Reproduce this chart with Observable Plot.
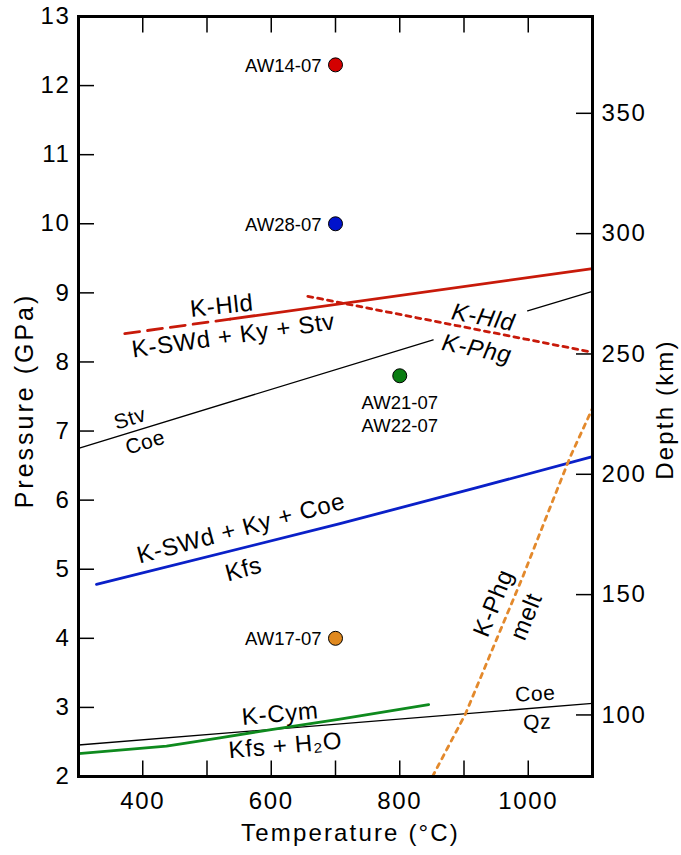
<!DOCTYPE html>
<html>
<head>
<meta charset="utf-8">
<script src="https://cdn.jsdelivr.net/npm/d3@7"></script>
<script src="https://cdn.jsdelivr.net/npm/@observablehq/plot@0.6"></script>
<style>
  body { margin: 0; background: #fff; }
  svg text { font-family: "Liberation Sans", Arial, Helvetica, sans-serif; }
  g[aria-label$="tick label"] text { letter-spacing: 0.07em; }
</style>
</head>
<body>
<div id="chart"></div>
<script>
// ---- axes ----
const tempTicks = [400, 500, 600, 700, 800, 900, 1000];
const tempLabels = [400, 600, 800, 1000];
const pressureTicks = [2, 3, 4, 5, 6, 7, 8, 9, 10, 11, 12, 13];
const depthTicksKm = [100, 150, 200, 250, 300, 350];
const depthAtZeroGPa = 17;     // km
const kmPerGPa = 28.71;        // km per GPa

// ---- reaction curves (T in °C, P in GPa) ----
const kHldDashed = [{T: 372, P: 8.41}, {T: 536, P: 8.62}];
const kHldSolid = [{T: 536, P: 8.62}, {T: 1100, P: 9.35}];
const kHldPhg = [{T: 657, P: 8.95}, {T: 1100, P: 8.14}];
const stvCoeLeft = [{T: 300, P: 6.75}, {T: 852, P: 8.32}];
const stvCoeRight = [{T: 999, P: 8.74}, {T: 1100, P: 9.02}];
const kswdKfs = [{T: 328, P: 4.78}, {T: 707, P: 5.66}, {T: 920, P: 6.18}, {T: 1100, P: 6.63}];
const kcymKfs = [{T: 300, P: 2.33}, {T: 437, P: 2.44}, {T: 520, P: 2.56}, {T: 600, P: 2.68}, {T: 707, P: 2.83}, {T: 845, P: 3.04}];
const coeQz = [{T: 300, P: 2.456}, {T: 1100, P: 3.058}];
const kphgMelt = [{T: 851, P: 2.0}, {T: 902, P: 2.9}, {T: 950, P: 3.97}, {T: 991, P: 4.88}, {T: 1030, P: 5.8}, {T: 1065, P: 6.62}, {T: 1100, P: 7.33}];

// ---- samples ----
const sampleNames = ["AW14-07", "AW28-07", "AW21-07\nAW22-07", "AW17-07"];
const sampleT = [700, 700, 800, 700];
const sampleP = [12.3, 10.0, 7.8, 4.0];
const sampleColors = ["#d40000", "#0012cc", "#0a7d12", "#e0891f"];
const samples = sampleNames.map((name, i) => ({name, T: sampleT[i], P: sampleP[i], color: sampleColors[i]}));

// ---- field labels ----
const labelsBig = [
  {text: "K-Hld", T: 523, P: 8.81, rotate: -6},
  {text: "K-SWd + Ky + Stv", T: 541, P: 8.38, rotate: -8},
  {text: "K-SWd + Ky + Coe", T: 553, P: 5.59, rotate: -15},
  {text: "Kfs", T: 557, P: 5.00, rotate: -15},
  {text: "K-Cym", T: 614, P: 2.905, rotate: -5},
  {text: "Kfs + H₂O", T: 622, P: 2.446, rotate: -5},
  {text: "K-Phg", T: 946, P: 4.51, rotate: -68},
  {text: "melt", T: 997, P: 4.315, rotate: -68}
];
const labelsItalic = [
  {text: "K-Hld", T: 930, P: 8.644, rotate: 11},
  {text: "K-Phg", T: 920, P: 8.187, rotate: 11}
];
const labelsSmall = [
  {text: "Stv", T: 380, P: 7.18, rotate: -17},
  {text: "Coe", T: 404, P: 6.835, rotate: -17},
  {text: "Coe", T: 1011, P: 3.194, rotate: -3},
  {text: "Qz", T: 1014, P: 2.783, rotate: -3}
];
const axisTitles = ["Temperature (°C)", "Pressure (GPa)", "Depth (km)"];

const red = "#c81a0a", blue = "#0a20c8", green = "#0e8a1e", orange = "#e3892c";
const depthPos = depthTicksKm.map(km => (km - depthAtZeroGPa) / kmPerGPa);

const W = 681, H = 855, ML = 78, MR = 89, MT = 16, MB = 79;
const innerW = W - ML - MR, innerH = H - MT - MB;
const yDomain = [2, 13];
const TICK = 16;
const tickGPa = TICK * (yDomain[1] - yDomain[0]) / innerH;   // tick length expressed along the pressure scale
const tickStyle = {stroke: "black", strokeWidth: 1.5};

const chart = Plot.plot({
  width: W,
  height: H,
  marginLeft: ML,
  marginRight: MR,
  marginTop: MT,
  marginBottom: MB,
  x: {domain: [300, 1100]},
  y: {domain: yDomain},
  style: {fontFamily: '"Liberation Sans", Arial, Helvetica, sans-serif', background: "white", color: "black"},
  marks: [
    // curves
    Plot.line(stvCoeLeft, {x: "T", y: "P", stroke: "black", strokeWidth: 1.3}),
    Plot.line(stvCoeRight, {x: "T", y: "P", stroke: "black", strokeWidth: 1.3}),
    Plot.line(coeQz, {x: "T", y: "P", stroke: "black", strokeWidth: 1.3}),
    Plot.line(kHldDashed, {x: "T", y: "P", stroke: red, strokeWidth: 2.8, strokeDasharray: "15,8"}),
    Plot.line(kHldSolid, {x: "T", y: "P", stroke: red, strokeWidth: 2.8}),
    Plot.line(kHldPhg, {x: "T", y: "P", stroke: red, strokeWidth: 2.8, strokeDasharray: "5,5"}),
    Plot.line(kswdKfs, {x: "T", y: "P", stroke: blue, strokeWidth: 2.8}),
    Plot.line(kcymKfs, {x: "T", y: "P", stroke: green, strokeWidth: 2.8}),
    Plot.line(kphgMelt, {x: "T", y: "P", stroke: orange, strokeWidth: 2.8, strokeDasharray: "4.5,5.5"}),
    // samples
    Plot.dot(samples, {x: "T", y: "P", r: 7, fill: "color", stroke: "black", strokeWidth: 1}),
    Plot.text(samples.filter(d => d.T === 700), {x: "T", y: "P", text: "name", textAnchor: "end", dx: -14, dy: 1, fontSize: 18.5}),
    Plot.text(samples.filter(d => d.T !== 700), {x: "T", y: "P", text: "name", lineAnchor: "top", lineHeight: 1.25, dy: 17, fontSize: 18.5}),
    // field labels
    Plot.text(labelsBig, {x: "T", y: "P", text: "text", rotate: "rotate", fontSize: 24}),
    Plot.text(labelsItalic, {x: "T", y: "P", text: "text", rotate: "rotate", fontSize: 24, fontStyle: "italic"}),
    Plot.text(labelsSmall, {x: "T", y: "P", text: "text", rotate: "rotate", fontSize: 21}),
    Plot.frame({stroke: "black", strokeWidth: 3}),
    // inward ticks on the temperature edges (bottom and top)
    Plot.link(tempTicks, {x1: d => d, x2: d => d, y1: () => yDomain[0], y2: () => yDomain[0] + tickGPa, ...tickStyle}),
    Plot.link(tempTicks, {x1: d => d, x2: d => d, y1: () => yDomain[1], y2: () => yDomain[1] - tickGPa, ...tickStyle}),
    // inward ticks on the pressure / depth edges
    Plot.ruleY(pressureTicks, {y: d => d, insetRight: innerW - TICK, ...tickStyle}),
    Plot.ruleY(depthPos, {y: d => d, insetLeft: innerW - TICK, ...tickStyle}),
    // tick labels
    Plot.axisX({anchor: "bottom", ticks: tempLabels, tickSize: 0, tickPadding: 15, fontSize: 24, label: null, tickFormat: d => String(d)}),
    Plot.axisY({anchor: "left", ticks: pressureTicks, tickSize: 0, tickPadding: 8, fontSize: 24, label: null, tickFormat: d => String(d)}),
    Plot.axisY({anchor: "right", ticks: depthPos, tickSize: 0, tickPadding: 9, fontSize: 24, label: null,
      tickFormat: p => String(Math.round(p * kmPerGPa + depthAtZeroGPa))}),
    // axis titles
    Plot.text([axisTitles[0]], {frameAnchor: "bottom", textAnchor: "middle", lineAnchor: "middle", dx: 15, dy: 57, fontSize: 24}),
    Plot.text([axisTitles[1]], {frameAnchor: "left", textAnchor: "middle", lineAnchor: "middle", dx: -54, dy: 4, rotate: -90, fontSize: 25}),
    Plot.text([axisTitles[2]], {frameAnchor: "right", textAnchor: "middle", lineAnchor: "middle", dx: 73, dy: 13, rotate: -90, fontSize: 24})
  ]
});
// typographic spacing (the reference type is slightly wider than Arial)
const bigLabelSet = new Set([...labelsBig, ...labelsItalic, ...labelsSmall].map(d => d.text));
d3.select(chart).selectAll("text").each(function () {
  const t = this.textContent;
  if (t === axisTitles[1]) this.style.letterSpacing = "0.12em";
  else if (axisTitles.includes(t)) this.style.letterSpacing = "0.09em";
  else if (bigLabelSet.has(t)) this.style.letterSpacing = "0.03em";
});
document.getElementById("chart").appendChild(chart);
</script>
</body>
</html>
